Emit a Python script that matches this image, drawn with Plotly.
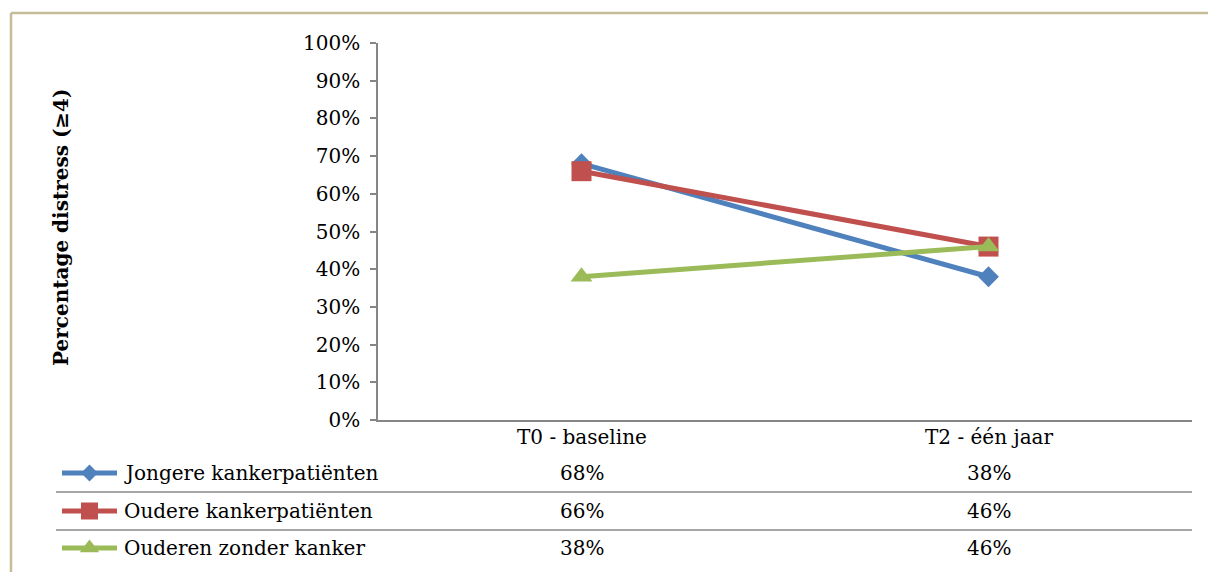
import plotly.graph_objects as go

# --- data -----------------------------------------------------------------
categories = ["T0 - baseline", "T2 - één jaar"]
series_names = ["Jongere kankerpatiënten", "Oudere kankerpatiënten", "Ouderen zonder kanker"]
jongere = [68, 38]
oudere = [66, 46]
zonder_kanker = [38, 46]
y_ticks = list(range(0, 101, 10))
y_title = "Percentage distress (≥4)"

# --- styling ----------------------------------------------------------------
W, H = 1208, 572
FONT = "DejaVu Serif"
colors = ["#4F81BD", "#C0504D", "#9BBB59"]
symbols = ["diamond", "square", "triangle-up"]
marker_sizes = [16, 20, 19]
key_sizes = [13, 17, 17]
axis_grey = "#868686"
table_grey = "#A6A6A6"
frame_col = "#C4BD97"

# plot-area edges in pixels
PL, PR, PT, PB = 378, 1192, 43, 420
# data-table geometry in pixels
header_y = 437
row_y = [473, 511, 548]
row_lines = [492, 530]
table_left = 56
key_x0, key_x1, label_x = 62, 117, 122

cat_pos = [i + 0.5 for i in range(len(categories))]
all_series = [jongere, oudere, zonder_kanker]

fig = go.Figure()

for name, vals, col, sym, ms in zip(series_names, all_series, colors, symbols, marker_sizes):
    fig.add_trace(go.Scatter(
        x=cat_pos, y=[v / 100 for v in vals], name=name, mode="lines+markers",
        line=dict(color=col, width=5),
        marker=dict(symbol=sym, size=ms, color=col, line=dict(width=0)),
        showlegend=False, xaxis="x", yaxis="y",
    ))

# legend keys of the data table, drawn on a full-figure pixel overlay
for i, (col, sym, ks) in enumerate(zip(colors, symbols, key_sizes)):
    fig.add_trace(go.Scatter(
        x=[key_x0, (key_x0 + key_x1) / 2, key_x1], y=[row_y[i]] * 3,
        mode="lines", line=dict(color=col, width=5),
        showlegend=False, hoverinfo="skip", xaxis="x2", yaxis="y2",
    ))
    fig.add_trace(go.Scatter(
        x=[(key_x0 + key_x1) / 2], y=[row_y[i]], mode="markers",
        marker=dict(symbol=sym, size=ks, color=col, line=dict(width=0)),
        showlegend=False, hoverinfo="skip", xaxis="x2", yaxis="y2",
    ))

txt_font = dict(family=FONT, size=20, color="black")
annotations = []
# category header row
for xp, cat in zip(cat_pos, categories):
    annotations.append(dict(
        x=xp, y=header_y, xref="x", yref="y2", text=cat, showarrow=False,
        font=txt_font, xanchor="center", yanchor="middle",
    ))
# table rows: series label + values
for i, vals in enumerate(all_series):
    for xp, v in zip(cat_pos, vals):
        annotations.append(dict(
            x=xp, y=row_y[i], xref="x", yref="y2", text=f"{v}%", showarrow=False,
            font=txt_font, xanchor="center", yanchor="middle",
        ))
    annotations.append(dict(
        x=label_x, y=row_y[i], xref="x2", yref="y2", text=series_names[i], showarrow=False,
        font=txt_font, xanchor="left", yanchor="middle",
    ))

annotations.append(dict(
    x=61, y=227, xref="x2", yref="y2", text=f"<b>{y_title}</b>",
    textangle=-90, showarrow=False,
    font=dict(family=FONT, size=20, color="black"),
    xanchor="center", yanchor="middle",
))

shapes = []
for ly in row_lines:
    shapes.append(dict(type="line", xref="x2", yref="y2", x0=table_left, x1=PR,
                       y0=ly, y1=ly, line=dict(color=table_grey, width=2)))
# chart frame (left and top edges visible)
shapes.append(dict(type="line", xref="x2", yref="y2", x0=11, x1=11, y0=13, y1=H + 10,
                   line=dict(color=frame_col, width=2.5)))
shapes.append(dict(type="line", xref="x2", yref="y2", x0=11, x1=W + 10, y0=13, y1=13,
                   line=dict(color=frame_col, width=2.5)))

fig.update_layout(
    width=W, height=H, autosize=False,
    margin=dict(l=0, r=0, t=0, b=0, pad=0, autoexpand=False),
    paper_bgcolor="white", plot_bgcolor="rgba(0,0,0,0)",
    font=txt_font,
    xaxis=dict(
        domain=[PL / W, PR / W], range=[0, len(categories)], anchor="y",
        showticklabels=False, ticks="", automargin=False,
        showline=True, linecolor=axis_grey, linewidth=1.5,
        showgrid=False, zeroline=False, fixedrange=True,
    ),
    yaxis=dict(
        domain=[1 - PB / H, 1 - PT / H], range=[0, 1], anchor="x", automargin=False,
        tickvals=[t / 100 for t in y_ticks], ticktext=[f"{t}%" for t in y_ticks],
        ticks="outside", ticklen=6, tickcolor=axis_grey, tickwidth=1.5,
        ticklabelstandoff=6,
        showline=True, linecolor=axis_grey, linewidth=1.5,
        showgrid=False, zeroline=False, fixedrange=True,
        tickfont=txt_font,
    ),
    xaxis2=dict(domain=[0, 1], range=[0, W], anchor="y2", visible=False,
                fixedrange=True, automargin=False),
    yaxis2=dict(domain=[0, 1], range=[H, 0], anchor="x2", visible=False,
                fixedrange=True, automargin=False),
    annotations=annotations,
    shapes=shapes,
)

fig.write_html("out.html")
